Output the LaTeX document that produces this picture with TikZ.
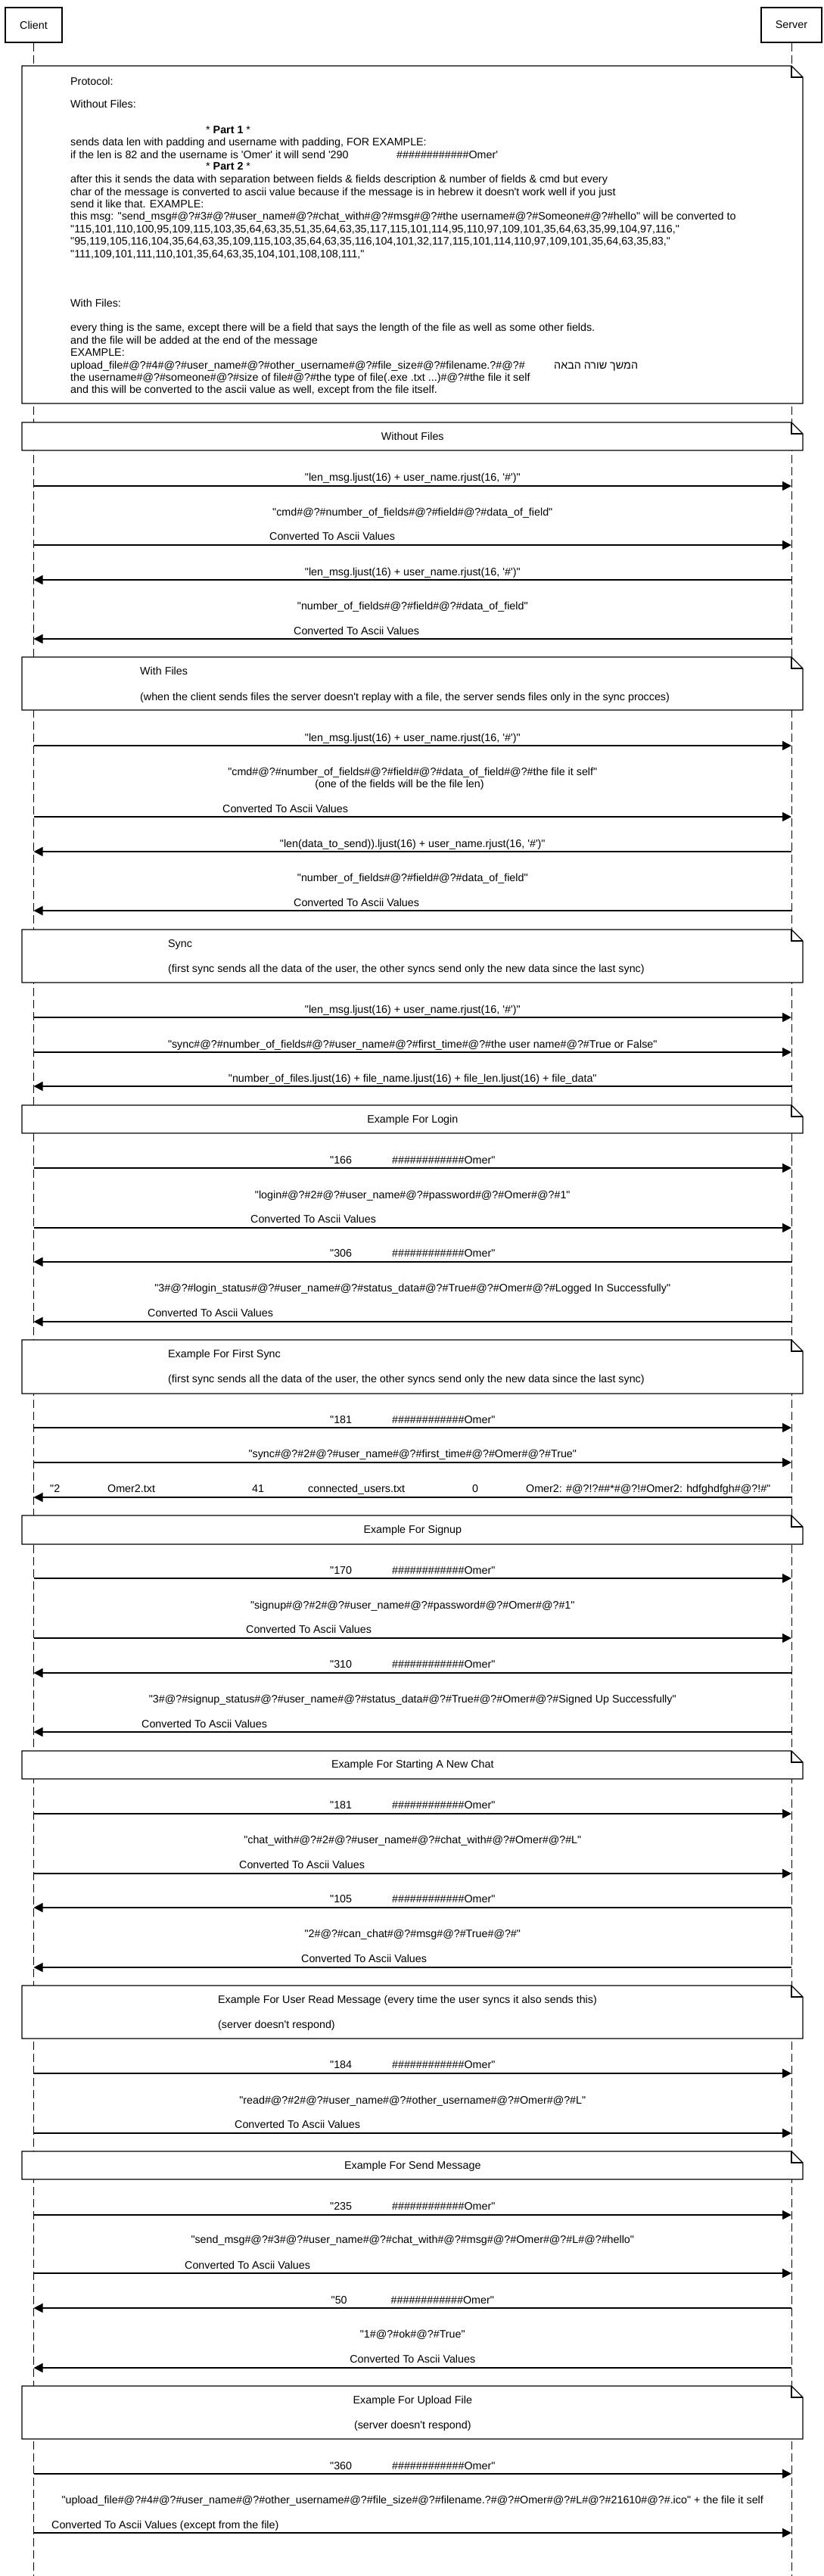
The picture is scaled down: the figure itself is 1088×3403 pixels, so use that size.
\documentclass[tikz,border=0pt]{standalone}
\usepackage{fontspec}
\newfontfamily\lsans{Liberation Sans}
\newfontfamily\hebf[Script=Hebrew]{Liberation Sans}
\TeXXeTstate=1
\usetikzlibrary{arrows.meta}
\newcommand\drawnote[2]{%
  \draw[notebox] (29,#1) -- (1046,#1) -- (1061,#1+15) -- (1061,#2) -- (29,#2) -- cycle;
  \draw[line width=1.3pt] (1046,#1) -- (1046,#1+15) -- (1061,#1+15);}
\newcommand\msgto[2]{%
  \coordinate (c#1) at (44.5,#2); \coordinate (s#1) at (1046,#2);
  \draw[msg] (c#1) -- (s#1);}
\newcommand\msgfrom[2]{%
  \coordinate (c#1) at (44.5,#2); \coordinate (s#1) at (1046,#2);
  \draw[msg] (s#1) -- (c#1);}
\newcommand\omerpad[1]{"#1\hspace{53pt}\#\#\#\#\#\#\#\#\#\#\#\#Omer"}
\begin{document}
\begin{tikzpicture}[x=1pt,y=-1pt,
  every node/.style={font=\lsans\fontsize{14.3}{16.3}\selectfont, inner sep=0pt, text=black},
  life/.style={line width=1pt, dash pattern=on 11pt off 5pt},
  actor/.style={draw, line width=2pt, fill=white, minimum height=46pt},
  msg/.style={line width=1.5pt, -{Triangle[length=12pt,width=12pt]}},
  notebox/.style={draw, line width=1.3pt, fill=white},
  ctext/.style={anchor=base},
  ltext/.style={anchor=base west},
]
\useasboundingbox[fill=white] (0,0) rectangle (1088,3403);
\def\cx{545.3}
% lifelines
\node[actor, minimum width=75pt] (client) at (44.5,33) {Client};
\node[actor, minimum width=80pt] (server) at (1046,33) {Server};
\coordinate (cend) at (44.5,3403);
\coordinate (send) at (1046,3403);
\draw[life] (client.south) -- (cend);
\draw[life] (server.south) -- (send);

% ---------- big protocol note ----------
\drawnote{87}{533}
\node[ltext] (p1) at (93,112) {Protocol:};
\node[ltext] (p2) at (93,142) {Without Files:};
\node[ltext] (p3) at (272,176) {* \textbf{Part 1} *};
\node[ltext] (p4) at (93,192) {sends data len with padding and username with padding, FOR EXAMPLE:};
\node[ltext] (p5) at (93,209) {if the len is 82 and the username is 'Omer' it will send '290};
\node[ltext] (p5b) at (524,209) {\#\#\#\#\#\#\#\#\#\#\#\#Omer'};
\node[ltext] (p6) at (272,224) {* \textbf{Part 2} *};
\node[ltext] (p7) at (93,241) {after this it sends the data with separation between fields \& fields description \& number of fields \& cmd but every};
\node[ltext] (p8) at (93,258) {char of the message is converted to ascii value because if the message is in hebrew it doesn't work well if you just};
\node[ltext] (p9) at (93,274) {send it like that. EXAMPLE:};
\node[ltext] (p10) at (93,290) {this msg: "send\_msg\#@?\#3\#@?\#user\_name\#@?\#chat\_with\#@?\#msg\#@?\#the username\#@?\#Someone\#@?\#hello" will be converted to};
\node[ltext] (p11) at (93,307) {"115,101,110,100,95,109,115,103,35,64,63,35,51,35,64,63,35,117,115,101,114,95,110,97,109,101,35,64,63,35,99,104,97,116,"};
\node[ltext] (p12) at (93,323) {"95,119,105,116,104,35,64,63,35,109,115,103,35,64,63,35,116,104,101,32,117,115,101,114,110,97,109,101,35,64,63,35,83,"};
\node[ltext] (p13) at (93,340) {"111,109,101,111,110,101,35,64,63,35,104,101,108,108,111,"};
\node[ltext] (p14) at (93,405) {With Files:};
\node[ltext] (p15) at (93,437) {every thing is the same, except there will be a field that says the length of the file as well as some other fields.};
\node[ltext] (p16) at (93,454) {and the file will be added at the end of the message};
\node[ltext] (p17) at (93,470) {EXAMPLE:};
\node[ltext] (p18) at (93,487) {upload\_file\#@?\#4\#@?\#user\_name\#@?\#other\_username\#@?\#file\_size\#@?\#filename.?\#@?\#};
\node[ltext] (p18b) at (732,487) {\hebf\beginR המשך שורה הבאה\endR};
\node[ltext] (p19) at (93,503) {the username\#@?\#someone\#@?\#size of file\#@?\#the type of file(.exe .txt ...)\#@?\#the file it self};
\node[ltext] (p20) at (93,519) {and this will be converted to the ascii value as well, except from the file itself.};

% ---------- Without Files ----------
\drawnote{558}{595}
\node[ctext] (n1) at (\cx,581) {Without Files};
\msgto{1}{642}
\node[ctext] (l1) at (\cx,635) {"len\_msg.ljust(16) + user\_name.rjust(16, '\#')"};
\msgto{2}{720}
\node[ctext] (l2) at (\cx,681) {"cmd\#@?\#number\_of\_fields\#@?\#field\#@?\#data\_of\_field"};
\node[ltext] (l2b) at (356,713) {Converted To Ascii Values};
\msgfrom{3}{766}
\node[ctext] (l3) at (\cx,760) {"len\_msg.ljust(16) + user\_name.rjust(16, '\#')"};
\msgfrom{4}{844}
\node[ctext] (l4) at (\cx,805) {"number\_of\_fields\#@?\#field\#@?\#data\_of\_field"};
\node[ltext] (l4b) at (388,838) {Converted To Ascii Values};

% ---------- With Files ----------
\drawnote{868}{938}
\node[ltext] (n2) at (185,891) {With Files};
\node[ltext] (n2b) at (185,925) {(when the client sends files the server doesn't replay with a file, the server sends files only in the sync procces)};
\msgto{5}{985}
\node[ctext] (l5) at (\cx,979) {"len\_msg.ljust(16) + user\_name.rjust(16, '\#')"};
\msgto{6}{1079}
\node[ctext] (l6) at (\cx,1024) {"cmd\#@?\#number\_of\_fields\#@?\#field\#@?\#data\_of\_field\#@?\#the file it self"};
\node[ctext] (l6b) at (528,1040) {(one of the fields will be the file len)};
\node[ltext] (l6c) at (294,1073) {Converted To Ascii Values};
\msgfrom{7}{1125}
\node[ctext] (l7) at (\cx,1119) {"len(data\_to\_send)).ljust(16) + user\_name.rjust(16, '\#')"};
\msgfrom{8}{1203}
\node[ctext] (l8) at (\cx,1164) {"number\_of\_fields\#@?\#field\#@?\#data\_of\_field"};
\node[ltext] (l8b) at (388,1197) {Converted To Ascii Values};

% ---------- Sync ----------
\drawnote{1228}{1298}
\node[ltext] (n3) at (222,1251) {Sync};
\node[ltext] (n3b) at (222,1284) {(first sync sends all the data of the user, the other syncs send only the new data since the last sync)};
\msgto{9}{1344}
\node[ctext] (l9) at (\cx,1338) {"len\_msg.ljust(16) + user\_name.rjust(16, '\#')"};
\msgto{10}{1390}
\node[ctext] (l10) at (\cx,1384) {"sync\#@?\#number\_of\_fields\#@?\#user\_name\#@?\#first\_time\#@?\#the user name\#@?\#True or False"};
\msgfrom{11}{1435}
\node[ctext] (l11) at (\cx,1429) {"number\_of\_files.ljust(16) + file\_name.ljust(16) + file\_len.ljust(16) + file\_data"};

% ---------- Login ----------
\drawnote{1460}{1497}
\node[ctext] (n4) at (\cx,1483) {Example For Login};
\msgto{12}{1543}
\node[ctext] (l12) at (\cx,1537) {\omerpad{166}};
\msgto{13}{1622}
\node[ctext] (l13) at (\cx,1583) {"login\#@?\#2\#@?\#user\_name\#@?\#password\#@?\#Omer\#@?\#1"};
\node[ltext] (l13b) at (331,1615) {Converted To Ascii Values};
\msgfrom{14}{1667}
\node[ctext] (l14) at (\cx,1660) {\omerpad{306}};
\msgfrom{15}{1746}
\node[ctext] (l15) at (\cx,1706) {"3\#@?\#login\_status\#@?\#user\_name\#@?\#status\_data\#@?\#True\#@?\#Omer\#@?\#Logged In Successfully"};
\node[ltext] (l15b) at (195,1739) {Converted To Ascii Values};

% ---------- First Sync ----------
\drawnote{1770}{1841}
\node[ltext] (n5) at (222,1793) {Example For First Sync};
\node[ltext] (n5b) at (222,1826) {(first sync sends all the data of the user, the other syncs send only the new data since the last sync)};
\msgto{16}{1886}
\node[ctext] (l16) at (\cx,1880) {\omerpad{181}};
\msgto{17}{1932}
\node[ctext] (l17) at (\cx,1925) {"sync\#@?\#2\#@?\#user\_name\#@?\#first\_time\#@?\#Omer\#@?\#True"};
\msgfrom{18}{1978}
\node[ltext] (l18a) at (66,1971) {"2};
\node[ltext] (l18b) at (142,1971) {Omer2.txt};
\node[ltext] (l18c) at (333,1971) {41};
\node[ltext] (l18d) at (407,1971) {connected\_users.txt};
\node[ltext] (l18e) at (624,1971) {0};
\node[ltext] (l18f) at (695,1971) {Omer2: \#@?!?\#\#*\#@?!\#Omer2: hdfghdfgh\#@?!\#"};

% ---------- Signup ----------
\drawnote{2002}{2040}
\node[ctext] (n6) at (\cx,2025) {Example For Signup};
\msgto{19}{2085}
\node[ctext] (l19) at (\cx,2079) {\omerpad{170}};
\msgto{20}{2164}
\node[ctext] (l20) at (\cx,2125) {"signup\#@?\#2\#@?\#user\_name\#@?\#password\#@?\#Omer\#@?\#1"};
\node[ltext] (l20b) at (325,2157) {Converted To Ascii Values};
\msgfrom{21}{2210}
\node[ctext] (l21) at (\cx,2203) {\omerpad{310}};
\msgfrom{22}{2288}
\node[ctext] (l22) at (\cx,2249) {"3\#@?\#signup\_status\#@?\#user\_name\#@?\#status\_data\#@?\#True\#@?\#Omer\#@?\#Signed Up Successfully"};
\node[ltext] (l22b) at (187,2282) {Converted To Ascii Values};

% ---------- New Chat ----------
\drawnote{2313}{2350}
\node[ctext] (n7) at (\cx,2335) {Example For Starting A New Chat};
\msgto{23}{2396}
\node[ctext] (l23) at (\cx,2389) {\omerpad{181}};
\msgto{24}{2475}
\node[ctext] (l24) at (\cx,2435) {"chat\_with\#@?\#2\#@?\#user\_name\#@?\#chat\_with\#@?\#Omer\#@?\#L"};
\node[ltext] (l24b) at (316,2468) {Converted To Ascii Values};
\msgfrom{25}{2520}
\node[ctext] (l25) at (\cx,2513) {\omerpad{105}};
\msgfrom{26}{2599}
\node[ctext] (l26) at (\cx,2559) {"2\#@?\#can\_chat\#@?\#msg\#@?\#True\#@?\#"};
\node[ltext] (l26b) at (398,2592) {Converted To Ascii Values};

% ---------- Read ----------
\drawnote{2623}{2693}
\node[ltext] (n8) at (288,2646) {Example For User Read Message (every time the user syncs it also sends this)};
\node[ltext] (n8b) at (288,2679) {(server doesn't respond)};
\msgto{27}{2739}
\node[ctext] (l27) at (\cx,2732) {\omerpad{184}};
\msgto{28}{2818}
\node[ctext] (l28) at (\cx,2779) {"read\#@?\#2\#@?\#user\_name\#@?\#other\_username\#@?\#Omer\#@?\#L"};
\node[ltext] (l28b) at (310,2811) {Converted To Ascii Values};

% ---------- Send Message ----------
\drawnote{2842}{2879}
\node[ctext] (n9) at (\cx,2865) {Example For Send Message};
\msgto{29}{2926}
\node[ctext] (l29) at (\cx,2919) {\omerpad{235}};
\msgto{30}{3003}
\node[ctext] (l30) at (\cx,2963) {"send\_msg\#@?\#3\#@?\#user\_name\#@?\#chat\_with\#@?\#msg\#@?\#Omer\#@?\#L\#@?\#hello"};
\node[ltext] (l30b) at (244,2997) {Converted To Ascii Values};
\msgfrom{31}{3049}
\node[ctext] (l31) at (\cx,3043) {"50\hspace{58pt}\#\#\#\#\#\#\#\#\#\#\#\#Omer"};
\msgfrom{32}{3128}
\node[ctext] (l32) at (\cx,3088) {"1\#@?\#ok\#@?\#True"};
\node[ctext] (l32b) at (\cx,3121) {Converted To Ascii Values};

% ---------- Upload File ----------
\drawnote{3152}{3222}
\node[ctext] (n10) at (\cx,3175) {Example For Upload File};
\node[ctext] (n10b) at (\cx,3208) {(server doesn't respond)};
\msgto{33}{3268}
\node[ctext] (l33) at (\cx,3262) {\omerpad{360}};
\msgto{34}{3346}
\node[ctext] (l34) at (\cx,3307) {"upload\_file\#@?\#4\#@?\#user\_name\#@?\#other\_username\#@?\#file\_size\#@?\#filename.?\#@?\#Omer\#@?\#L\#@?\#21610\#@?\#.ico" + the file it self};
\node[ltext] (l34b) at (68,3340) {Converted To Ascii Values (except from the file)};
\end{tikzpicture}
\end{document}
